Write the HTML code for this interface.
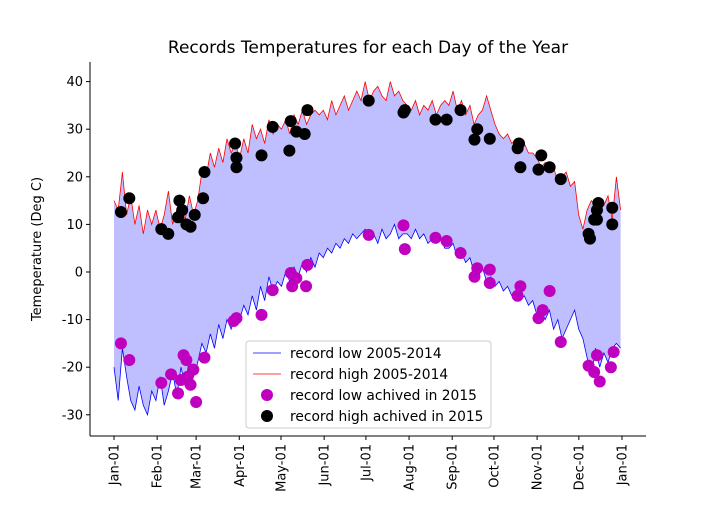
<!DOCTYPE html>
<html><head><meta charset="utf-8"><style>
body{margin:0;background:#fff;font-family:"Liberation Sans","DejaVu Sans",sans-serif}
</style></head><body>
<svg id="chart" width="718" height="513" xmlns="http://www.w3.org/2000/svg" font-family="DejaVu Sans, Liberation Sans, sans-serif">
<text x="368" y="53" font-size="17" text-anchor="middle">Records Temperatures for each Day of the Year</text>
<text transform="translate(41,249) rotate(-90)" font-size="13" text-anchor="middle">Temeperature (Deg C)</text>
<g id="plot"></g>
<g id="axes"></g>
<g>
<rect x="246" y="341" width="245" height="87" rx="3" fill="#fff" fill-opacity="0.85" stroke="#ccc"/>
<line x1="253" y1="353" x2="281" y2="353" stroke="#0000ff" stroke-width="0.8"/>
<text x="290" y="358" font-size="13.8">record low 2005-2014</text>
<line x1="253" y1="374" x2="281" y2="374" stroke="#ff0000" stroke-width="0.8"/>
<text x="290" y="379" font-size="13.8">record high 2005-2014</text>
<circle cx="267" cy="395" r="6" fill="#bf00bf"/>
<text x="290" y="400" font-size="13.8">record low achived in 2015</text>
<circle cx="267" cy="416" r="6" fill="#000"/>
<text x="290" y="421" font-size="13.8">record high achived in 2015</text>
</g>
</svg>
<script>
const highs=[15,13,21,12,16,10,14,8,13,10,
13,9,12,17,10,13,14,11,16,12,
15,21,20,25,22,26,23,28,25,27,
24,28,25,31,28,30,27,32,29,31,
30,32,29,33,31,34,31,33,34,33,
34,32,36,33,35,37,34,36,38,36,
40,36,38,39,37,36,40,37,38,36,
35,34,36,33,35,34,36,33,35,36,
35,38,34,36,33,35,31,33,34,37,
34,31,29,28,29,27,28,26,27,25,
25,24,22,23,21,22,19,20,21,18,
19,12,9,13,15,14,15,14,16,11,20,13];
const lows=[-20,-27,-16,-22,-27,-29,-24,-28,-30,-25,
-27,-22,-28,-25,-21,-26,-20,-24,-18,-22,
-19,-15,-17,-13,-16,-11,-14,-10,-12,-9,
-10,-7,-9,-5,-8,-3,-6,-1,-4,-2,
-3,0,-2,1,-1,2,0,3,1,4,
3,5,4,6,5,7,6,8,7,8,
9,7,8,6,9,7,8,10,7,8,
8,7,9,7,8,6,7,6,7,5,
5,6,3,4,2,3,0,-1,1,-2,
-1,-3,-2,-4,-3,-5,-4,-6,-5,-7,
-6,-9,-8,-10,-8,-12,-10,-14,-12,-10,
-8,-12,-14,-18,-22,-16,-20,-17,-19,-16,-15,-16];
const hiDays=[5,11,34,39,46,47,49,52,55,58,64,65,87,88,88,106,114,126,127,131,137,139,183,208,209,231,239,249,259,261,270,290,291,292,305,307,313,321,341,342,345,347,348,347,358,358];
const hiTemps=[12.6,15.5,9,8,11.5,15,13,10,9.5,12,15.5,21,27,24,22,24.5,30.5,25.5,31.7,29.5,29,34,36,33.5,34,32,32,34,27.8,30,28,26,27,22,21.5,24.5,22,19.5,8,7,11,13,14.5,11,13.5,10];
const loDays=[5,11,34,41,46,48,50,52,53,55,57,59,65,86,88,106,114,127,131,128,138,139,183,208,209,231,239,249,259,261,270,270,290,292,305,308,313,321,341,345,347,349,357,359];
const loTemps=[-15,-18.5,-23.3,-21.5,-25.5,-22.7,-17.5,-18.5,-22,-23.7,-20.5,-27.3,-18,-10.3,-9.7,-9,-3.8,-0.2,-1.3,-3,-3,1.5,7.8,9.8,4.8,7.2,6.5,4,-1,0.8,-2.3,0.5,-5,-3,-9.7,-8,-4,-14.7,-19.7,-21,-17.5,-23,-20,-16.8];
const monthLabels=["Jan-01","Feb-01","Mar-01","Apr-01","May-01","Jun-01","Jul-01","Aug-01","Sep-01","Oct-01","Nov-01","Dec-01","Jan-01"];
const monthDays=[0,31,59,90,120,151,181,212,243,273,304,334,365];
const yTicks=[-30,-20,-10,0,10,20,30,40];

const NS="http://www.w3.org/2000/svg";
const X=d=>114+d*(508/365);
const Y=t=>272-t*4.76;
function mk(tag,attrs,parent){const e=document.createElementNS(NS,tag);for(const k in attrs)e.setAttribute(k,attrs[k]);parent.appendChild(e);return e;}
const plot=document.getElementById('plot'), axes=document.getElementById('axes');
const dayOf=i=>i*3*(364/363);
let hp=highs.map((v,i)=>X(dayOf(i)).toFixed(1)+','+Y(v).toFixed(1));
let lp=lows.map((v,i)=>X(dayOf(i)).toFixed(1)+','+Y(v).toFixed(1));
const fill=mk('polygon',{points:hp.concat(lp.slice().reverse()).join(' '),fill:'#bfbfff'},plot);


const ll=mk('polyline',{points:lp.join(' '),fill:'none',stroke:'#0000ff','stroke-width':0.8},plot);


const hl=mk('polyline',{points:hp.join(' '),fill:'none',stroke:'#ff0000','stroke-width':0.8},plot);


loDays.forEach((d,i)=>{const c=mk('circle',{cx:X(d),cy:Y(loTemps[i]),r:6,fill:'#bf00bf'},plot);

});
hiDays.forEach((d,i)=>{const c=mk('circle',{cx:X(d),cy:Y(hiTemps[i]),r:6,fill:'#000'},plot);

});
const ly=mk('line',{x1:90,y1:62,x2:90,y2:436,stroke:'#000','stroke-width':1},axes);


const lx=mk('line',{x1:90,y1:436,x2:646,y2:436,stroke:'#000','stroke-width':1},axes);


yTicks.forEach(t=>{mk('line',{x1:86,y1:Y(t),x2:90,y2:Y(t),stroke:'#000'},axes);
const tx=mk('text',{x:83,y:Y(t)+4.5,'font-size':13,'text-anchor':'end'},axes);tx.textContent=t;

});
monthDays.forEach((d,i)=>{const x=X(d);mk('line',{x1:x,y1:436,x2:x,y2:440,stroke:'#000'},axes);
const tx=mk('text',{transform:`translate(${x+4.5},444) rotate(-90)`,'font-size':13,'text-anchor':'end'},axes);tx.textContent=monthLabels[i];

});
</script>
</body></html>
